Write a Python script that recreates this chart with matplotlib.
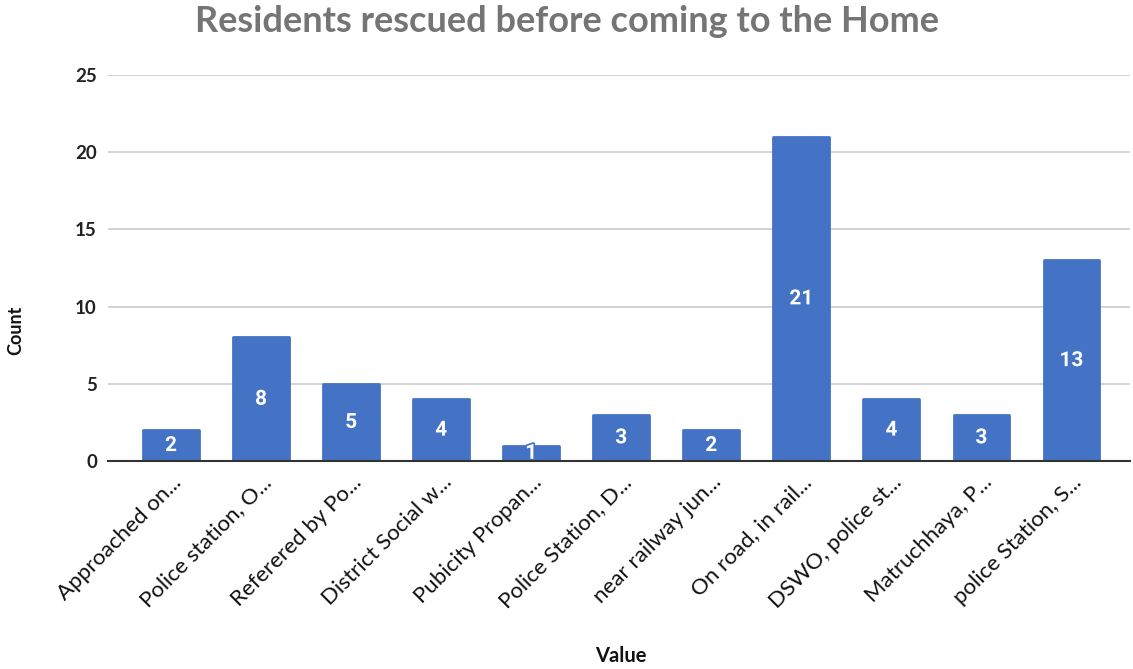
import matplotlib
matplotlib.use("Agg")
import matplotlib.pyplot as plt
import matplotlib.patheffects as pe
from matplotlib.transforms import ScaledTranslation

categories = ["Approached on...", "Police station, O...", "Referered by Po...",
              "District Social w...", "Pubicity Propan...", "Police Station, D...",
              "near railway jun...", "On road, in rail...", "DSWO, police st...",
              "Matruchhaya, P...", "police Station, S..."]
counts = [2, 8, 5, 4, 1, 3, 2, 21, 4, 3, 13]
yticks = [0, 5, 10, 15, 20, 25]

plt.rcParams['font.family'] = ['Lato', 'DejaVu Sans']
blue = "#4472C4"

fig = plt.figure(figsize=(11.33, 6.69), dpi=100)
ax = fig.add_axes([108/1133, 1-461/669, 1022/1133, (461-75)/669])

x = list(range(len(categories)))
bars = ax.bar(x, counts, width=0.62, color=blue, edgecolor=blue, linewidth=2,
              joinstyle='round', zorder=3)
for xi, v in zip(x, counts):
    ax.text(xi, v/2, str(v), ha='center', va='center', color='white',
            fontsize=15, fontweight='bold', family=['Roboto', 'DejaVu Sans'], zorder=4,
            path_effects=[pe.withStroke(linewidth=2.5, foreground=blue)])

ax.set_xlim(-0.70, 10.65)
ax.set_ylim(0, 25)
ax.set_yticks(yticks)
ax.set_yticklabels([str(t) for t in yticks], fontsize=13.5, fontweight='bold', color='#222222')
ax.set_xticks(x)
ax.set_xticklabels(categories, rotation=45, ha='right', rotation_mode='anchor',
                   fontsize=16, color='#111111')
offset = ScaledTranslation(-6/100, -8/100, fig.dpi_scale_trans)
for lbl in ax.get_xticklabels():
    lbl.set_transform(lbl.get_transform() + offset)
ax.tick_params(axis='both', length=0)
ax.tick_params(axis='y', pad=8)
ax.tick_params(axis='x', pad=8)
ax.grid(axis='y', color='#cccccc', linewidth=1.2, zorder=0)
for s in ['top', 'right', 'left']:
    ax.spines[s].set_visible(False)
ax.spines['bottom'].set_color('#333333')
ax.spines['bottom'].set_linewidth(1.5)
ax.spines['bottom'].set_zorder(5)

fig.text(567/1133, 1-22/669, "Residents rescued before coming to the Home", ha='center', va='center',
         fontsize=26, fontweight='bold', color='#757575')
fig.text(16/1133, 1-330/669, "Count", rotation=90, ha='center', va='center',
         fontsize=13, fontweight='bold', color='#111111')
fig.text(621/1133, 1-656/669, "Value", ha='center', va='center',
         fontsize=14.5, fontweight='bold', color='#111111')

fig.savefig("out.png", dpi=100, facecolor='white')
